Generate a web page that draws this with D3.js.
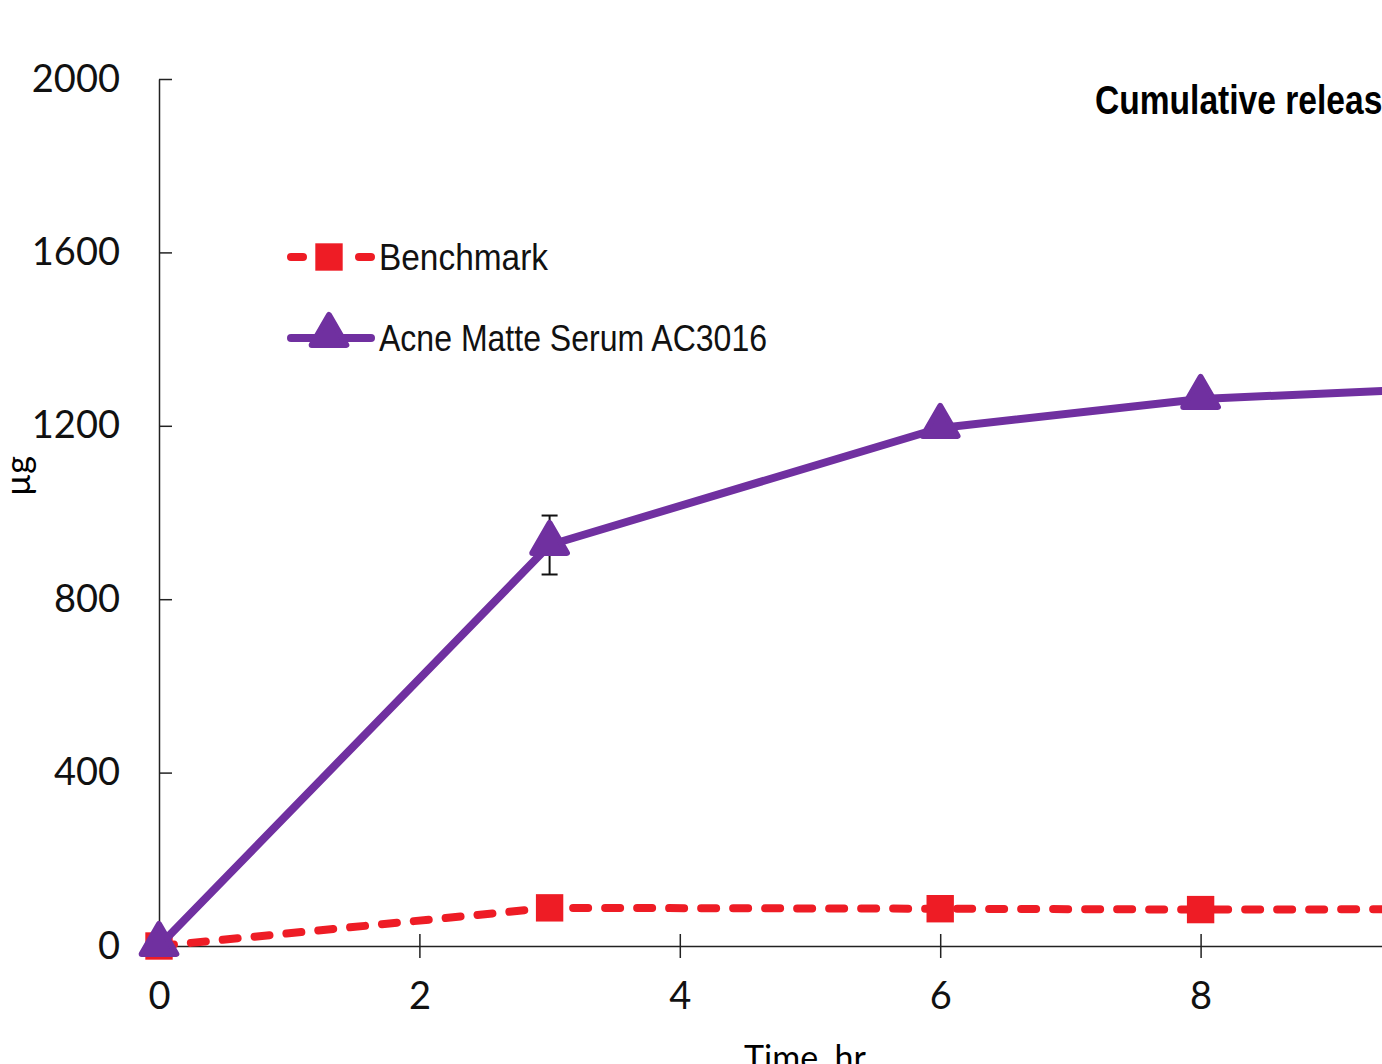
<!DOCTYPE html>
<html>
<head>
<meta charset="utf-8">
<script src="https://cdn.jsdelivr.net/npm/d3@7"></script>
<style>
  body { margin: 0; background: #fff; }
  svg { display: block; }
</style>
</head>
<body>
<div id="chart"></div>
<script>
// data
var times = [0, 3, 6, 8, 10];
var benchmark = [0, 88, 86, 84, 85];
var acne = [0, 925, 1195, 1262, 1288];
var acneErr = [0, 68, 0, 0, 0];
var xTicks = [0, 2, 4, 6, 8];
var yTicks = [0, 400, 800, 1200, 1600, 2000];
var seriesNames = ["Benchmark", "Acne Matte Serum AC3016"];
var legendWidths = [169, 388];

var width = 1382, height = 1064;
var red = "#ee1c25", purple = "#7030a0";
var tickFont = "Lato, 'Open Sans', sans-serif";
var textFont = "'Liberation Sans', Arimo, sans-serif";

var svg = d3.select("#chart").append("svg")
	.attr("width", width)
	.attr("height", height);

// scales
var x = d3.scaleLinear().domain([0, 10]).range([159, 1461]);
var y = d3.scaleLinear().domain([0, 2000]).range([946, 79]);

// y axis (ticks cross the line)
var yAxis = svg.append("g")
	.attr("transform", "translate(159,0)")
	.call(d3.axisLeft(y).tickValues(yTicks).tickFormat(d3.format("d"))
		.tickSizeInner(13).tickSizeOuter(0).tickPadding(26));
yAxis.selectAll(".tick line").attr("x2", 13);

// x axis
var xAxis = svg.append("g")
	.attr("transform", "translate(0,946)")
	.call(d3.axisBottom(x).tickValues(xTicks).tickSizeInner(12).tickSizeOuter(0).tickPadding(24));
xAxis.selectAll(".tick line").attr("y1", -12);

svg.selectAll(".tick text")
	.attr("font-family", tickFont)
	.attr("font-size", 38)
	.attr("fill", "#111");
svg.selectAll(".domain, .tick line").attr("stroke", "#222").attr("stroke-width", 1.5);

// axis titles
svg.append("text")
	.attr("transform", "translate(30,476) rotate(-90)")
	.attr("text-anchor", "middle")
	.attr("font-family", tickFont)
	.attr("font-size", 34)
	.text("µg");

svg.append("text")
	.attr("x", 805)
	.attr("y", 1070)
	.attr("text-anchor", "middle")
	.attr("font-family", tickFont)
	.attr("font-size", 34)
	.text("Time, hr");

// chart title
svg.append("text")
	.attr("x", 1095)
	.attr("y", 114)
	.attr("font-family", textFont)
	.attr("font-weight", "bold")
	.attr("font-size", 41)
	.attr("textLength", 306)
	.attr("lengthAdjust", "spacingAndGlyphs")
	.text("Cumulative release");

var line = d3.line()
	.x(function(d) { return x(d.t); })
	.y(function(d) { return y(d.v); });

var benchData = times.map(function(t, i) { return { t: t, v: benchmark[i] }; });
var acneData = times.map(function(t, i) { return { t: t, v: acne[i], e: acneErr[i] }; });

// error bars
var errs = svg.append("g").selectAll("g")
	.data(acneData.filter(function(d) { return d.e > 0; }))
	.enter().append("g")
	.attr("stroke", "#111")
	.attr("stroke-width", 2);
errs.append("line")
	.attr("x1", function(d) { return x(d.t); })
	.attr("x2", function(d) { return x(d.t); })
	.attr("y1", function(d) { return y(d.v + d.e); })
	.attr("y2", function(d) { return y(d.v - d.e); });
errs.selectAll(".cap")
	.data(function(d) { return [d.v + d.e, d.v - d.e].map(function(v) { return { t: d.t, v: v }; }); })
	.enter().append("line")
	.attr("class", "cap")
	.attr("x1", function(d) { return x(d.t) - 8; })
	.attr("x2", function(d) { return x(d.t) + 8; })
	.attr("y1", function(d) { return y(d.v); })
	.attr("y2", function(d) { return y(d.v); });

// benchmark line
svg.append("path")
	.datum(benchData)
	.attr("d", line)
	.attr("fill", "none")
	.attr("stroke", red)
	.attr("stroke-width", 8)
	.attr("stroke-linecap", "round")
	.attr("stroke-dasharray", "15,17");

var square = d3.symbol().type(d3.symbolSquare).size(750);
var triangle = d3.symbol().type(d3.symbolTriangle).size(520);

svg.append("g").selectAll("path")
	.data(benchData)
	.enter().append("path")
	.attr("transform", function(d) { return "translate(" + x(d.t) + "," + y(d.v) + ")"; })
	.attr("d", square)
	.attr("fill", red);

// acne serum line
svg.append("path")
	.datum(acneData)
	.attr("d", line)
	.attr("fill", "none")
	.attr("stroke", purple)
	.attr("stroke-width", 8)
	.attr("stroke-linejoin", "round");

svg.append("g").selectAll("path")
	.data(acneData)
	.enter().append("path")
	.attr("transform", function(d) { return "translate(" + x(d.t) + "," + (y(d.v) - 2) + ")"; })
	.attr("d", triangle)
	.attr("fill", purple)
	.attr("stroke", purple)
	.attr("stroke-width", 6)
	.attr("stroke-linejoin", "round");

// legend
var legend = svg.append("g").attr("transform", "translate(287,0)");
var rows = legend.selectAll("g")
	.data(seriesNames)
	.enter().append("g")
	.attr("transform", function(d, i) { return "translate(0," + (257 + i * 81) + ")"; });

rows.append("line")
	.attr("x1", 4).attr("x2", 84)
	.attr("stroke", function(d, i) { return i === 0 ? red : purple; })
	.attr("stroke-width", 8)
	.attr("stroke-linecap", "round")
	.attr("stroke-dasharray", function(d, i) { return i === 0 ? "12,28,0,28,12" : null; });

rows.append("path")
	.attr("transform", function(d, i) { return "translate(42," + (i === 0 ? 0 : -3) + ")"; })
	.attr("d", function(d, i) { return i === 0 ? square() : triangle(); })
	.attr("fill", function(d, i) { return i === 0 ? red : purple; })
	.attr("stroke", function(d, i) { return i === 0 ? "none" : purple; })
	.attr("stroke-width", 6)
	.attr("stroke-linejoin", "round");

rows.append("text")
	.attr("x", 92)
	.attr("dy", "0.35em")
	.attr("font-family", textFont)
	.attr("font-size", 37)
	.attr("fill", "#111")
	.attr("textLength", function(d, i) { return legendWidths[i]; })
	.attr("lengthAdjust", "spacingAndGlyphs")
	.text(function(d) { return d; });
</script>
</body>
</html>
